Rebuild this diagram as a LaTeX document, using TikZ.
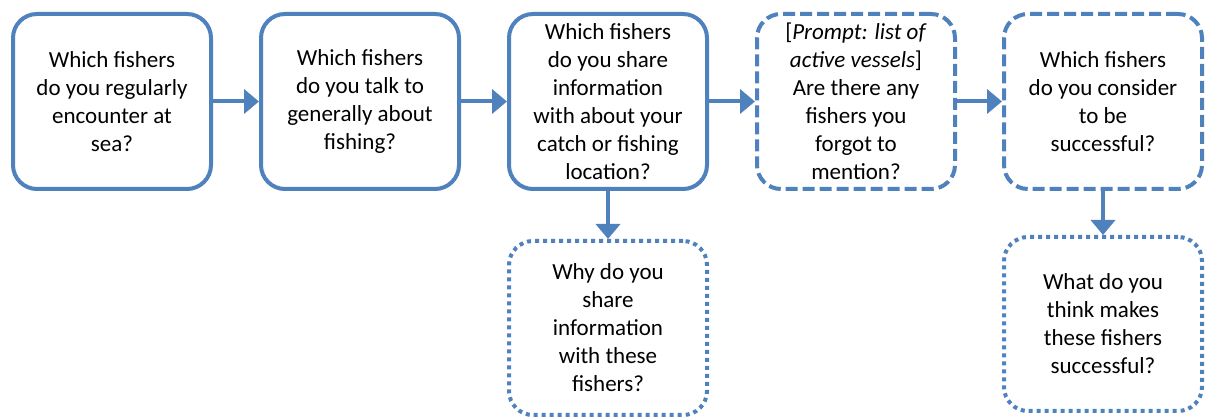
\documentclass[tikz,border=0pt]{standalone}
\usepackage{fontspec}
\setmainfont{Carlito}
\usetikzlibrary{arrows.meta}
\definecolor{obl}{HTML}{4F81BD}
\tikzset{
  qbox/.style={draw=obl, line width=4pt, rounded corners=24pt, minimum width=198pt, minimum height=175pt, align=center, inner sep=0pt, font=\fontsize{23}{28}\selectfont, text=black},
  dashbox/.style={qbox, dash pattern=on 12pt off 5pt},
  dotbox/.style={qbox, dash pattern=on 4pt off 4pt, minimum height=174pt},
  conn/.style={draw=obl, line width=4pt, -{Triangle[width=24pt,length=15pt]}}
}
\begin{document}
\begin{tikzpicture}[x=1pt,y=-1pt]
\useasboundingbox (0,0) rectangle (1205,419);
\node[qbox] (b1) at (112,101.5) {Which fishers\\do you regularly\\encounter at\\sea?};
\node[qbox] (b2) at (360,101.5) {Which fishers\\do you talk to\\generally about\\fishing?};
\node[qbox] (b3) at (608,101.5) {Which fishers\\do you share\\information\\with about your\\catch or fishing\\location?};
\node[dashbox] (b4) at (856,101.5) {[\textit{Prompt: list of}\\\textit{active vessels}]\\Are there any\\fishers you\\forgot to\\mention?};
\node[dashbox] (b5) at (1103,101.5) {Which fishers\\do you consider\\to be\\successful?};
\node[dotbox] (b6) at (608,328) {Why do you\\share\\information\\with these\\fishers?};
\node[dotbox] (b7) at (1103,324) {What do you\\think makes\\these fishers\\successful?};
\draw[conn] (b1) -- (b2);
\draw[conn] (b2) -- (b3);
\draw[conn] (b3) -- (b4);
\draw[conn] (b4) -- (b5);
\draw[conn] (b3) -- (b6);
\draw[conn] (b5) -- (b7);
\end{tikzpicture}
\end{document}
